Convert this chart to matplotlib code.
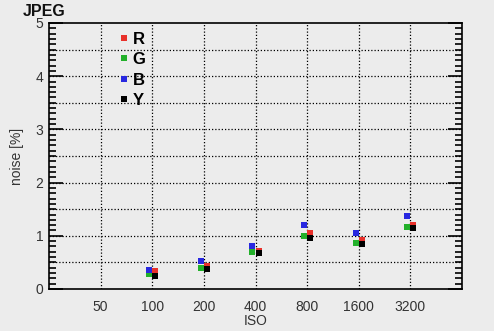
import matplotlib
matplotlib.use("Agg")
import matplotlib.pyplot as plt
from matplotlib.ticker import MultipleLocator
import numpy as np

iso_labels = ["50", "100", "200", "400", "800", "1600", "3200"]
iso_measured = ["100", "200", "400", "800", "1600", "3200"]
noise_R = [0.33, 0.44, 0.72, 1.05, 0.92, 1.21]
noise_G = [0.29, 0.39, 0.69, 0.99, 0.86, 1.16]
noise_B = [0.35, 0.52, 0.80, 1.20, 1.05, 1.38]
noise_Y = [0.24, 0.38, 0.67, 0.95, 0.84, 1.14]

series = [
    ("R", noise_R, "#e8302a", 0.06),
    ("G", noise_G, "#22b02a", -0.06),
    ("B", noise_B, "#2828e0", -0.06),
    ("Y", noise_Y, "#000000", 0.06),
]

bg = "#ececec"
plt.rcParams["font.family"] = ["Liberation Sans", "DejaVu Sans"]
fig = plt.figure(figsize=(4.94, 3.31), dpi=100, facecolor=bg)
ax = fig.add_axes([49/494, 1-289/331, (462-49)/494, (289-23)/331])
ax.set_facecolor(bg)

xpos = {lab: i for i, lab in enumerate(iso_labels)}
for name, vals, col, off in series:
    xs = np.array([xpos[l] for l in iso_measured]) + off
    ax.plot(xs, vals, linestyle="none", marker="s", markersize=3.8,
            color=col, markeredgewidth=0, label=name)

ax.set_xlim(-1, 7)
ax.set_ylim(0, 5)
ax.set_xticks(range(len(iso_labels)))
ax.set_xticklabels(iso_labels)
ax.yaxis.set_major_locator(MultipleLocator(1))
ax.yaxis.set_minor_locator(MultipleLocator(0.1))
ax.tick_params(axis="x", length=0, pad=8, labelsize=10, labelcolor="#333333")
ax.tick_params(axis="y", which="major", direction="in", length=10, width=1.2,
               left=True, right=True, labelsize=10, labelcolor="#333333", pad=4)
ax.tick_params(axis="y", which="minor", direction="in", length=5, width=1.2,
               left=True, right=True)

dot = (0, (1, 1.6))
for y in np.arange(0.5, 5, 0.5):
    ax.axhline(y, color="black", linestyle=dot, linewidth=0.9, zorder=0)
for i in range(len(iso_labels)):
    ax.axvline(i, color="black", linestyle=dot, linewidth=0.9, zorder=0)

for s in ax.spines.values():
    s.set_linewidth(1.2)
    s.set_color("black")

ax.set_xlabel("ISO", fontsize=10, color="#333333", labelpad=0)
ax.set_ylabel("noise [%]", fontsize=10, color="#333333", labelpad=8)

fig.text(23/494, 1-11/331, "JPEG", fontsize=11.5, fontweight="bold",
         va="center", ha="left", color="#111111")

leg = ax.legend(loc="upper left", bbox_to_anchor=(0.142, 1.018), frameon=False,
                handlelength=0.4, handletextpad=0.3, labelspacing=0.33,
                borderpad=0.3, prop={"weight": "bold", "size": 12},
                markerscale=1.0)

fig.savefig("out.png", dpi=100, facecolor=bg)
